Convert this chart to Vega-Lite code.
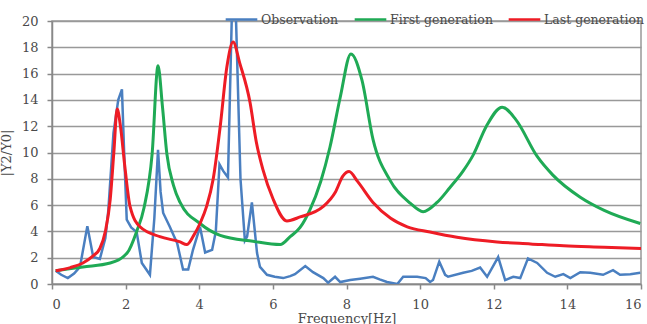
{
  "$schema": "https://vega.github.io/schema/vega-lite/v6.json",
  "width": 589,
  "height": 263,
  "autosize": {"type": "none"},
  "padding": {"left": 52, "top": 21, "right": 6, "bottom": 40},
  "background": "white",
  "config": {
    "view": {"stroke": "#999", "strokeWidth": 1.5},
    "font": "DejaVu Serif",
    "axis": {"labelFont": "DejaVu Serif", "titleFont": "DejaVu Serif", "labelColor": "#4a4a4a", "titleColor": "#4a4a4a", "labelFontSize": 13, "titleFontSize": 13, "titleFontWeight": "normal", "domainColor": "#888", "tickColor": "#888", "domainWidth": 1.5, "tickWidth": 1.5, "tickSize": 5},
    "legend": {"labelFont": "DejaVu Serif", "labelFontSize": 12.5, "labelColor": "#4a4a4a"}
  },
  "data": {"values": [
    {"f":0.1,"y":1.0,"s":"Observation"},{"f":0.25,"y":0.7,"s":"Observation"},{"f":0.43,"y":0.45,"s":"Observation"},{"f":0.6,"y":0.8,"s":"Observation"},{"f":0.76,"y":1.3,"s":"Observation"},{"f":0.96,"y":4.4,"s":"Observation"},{"f":1.12,"y":2.05,"s":"Observation"},{"f":1.3,"y":1.9,"s":"Observation"},{"f":1.45,"y":3.5,"s":"Observation"},{"f":1.53,"y":5.6,"s":"Observation"},{"f":1.67,"y":11.5,"s":"Observation"},{"f":1.8,"y":14.0,"s":"Observation"},{"f":1.9,"y":14.8,"s":"Observation"},{"f":1.96,"y":10.0,"s":"Observation"},{"f":2.03,"y":4.9,"s":"Observation"},{"f":2.15,"y":4.3,"s":"Observation"},{"f":2.3,"y":3.95,"s":"Observation"},{"f":2.44,"y":1.6,"s":"Observation"},{"f":2.66,"y":0.7,"s":"Observation"},{"f":2.78,"y":5.0,"s":"Observation"},{"f":2.88,"y":10.2,"s":"Observation"},{"f":2.95,"y":7.0,"s":"Observation"},{"f":3.02,"y":5.4,"s":"Observation"},{"f":3.2,"y":4.35,"s":"Observation"},{"f":3.4,"y":3.1,"s":"Observation"},{"f":3.56,"y":1.1,"s":"Observation"},{"f":3.7,"y":1.1,"s":"Observation"},{"f":3.83,"y":2.6,"s":"Observation"},{"f":4.02,"y":4.35,"s":"Observation"},{"f":4.16,"y":2.4,"s":"Observation"},{"f":4.35,"y":2.6,"s":"Observation"},{"f":4.45,"y":4.0,"s":"Observation"},{"f":4.55,"y":9.1,"s":"Observation"},{"f":4.65,"y":8.6,"s":"Observation"},{"f":4.78,"y":8.1,"s":"Observation"},{"f":4.89,"y":21.0,"s":"Observation"},{"f":4.99,"y":21.0,"s":"Observation"},{"f":5.12,"y":8.0,"s":"Observation"},{"f":5.24,"y":3.3,"s":"Observation"},{"f":5.3,"y":3.6,"s":"Observation"},{"f":5.43,"y":6.2,"s":"Observation"},{"f":5.57,"y":2.35,"s":"Observation"},{"f":5.65,"y":1.3,"s":"Observation"},{"f":5.84,"y":0.7,"s":"Observation"},{"f":6.05,"y":0.55,"s":"Observation"},{"f":6.28,"y":0.45,"s":"Observation"},{"f":6.47,"y":0.6,"s":"Observation"},{"f":6.6,"y":0.75,"s":"Observation"},{"f":6.88,"y":1.37,"s":"Observation"},{"f":7.09,"y":0.9,"s":"Observation"},{"f":7.37,"y":0.45,"s":"Observation"},{"f":7.5,"y":0.1,"s":"Observation"},{"f":7.69,"y":0.55,"s":"Observation"},{"f":7.83,"y":0.15,"s":"Observation"},{"f":8.1,"y":0.3,"s":"Observation"},{"f":8.37,"y":0.4,"s":"Observation"},{"f":8.72,"y":0.55,"s":"Observation"},{"f":8.9,"y":0.35,"s":"Observation"},{"f":9.1,"y":0.15,"s":"Observation"},{"f":9.38,"y":0.0,"s":"Observation"},{"f":9.54,"y":0.55,"s":"Observation"},{"f":9.92,"y":0.55,"s":"Observation"},{"f":10.15,"y":0.45,"s":"Observation"},{"f":10.27,"y":0.15,"s":"Observation"},{"f":10.35,"y":0.3,"s":"Observation"},{"f":10.52,"y":1.7,"s":"Observation"},{"f":10.68,"y":0.7,"s":"Observation"},{"f":10.76,"y":0.55,"s":"Observation"},{"f":11.17,"y":0.85,"s":"Observation"},{"f":11.4,"y":1.0,"s":"Observation"},{"f":11.63,"y":1.25,"s":"Observation"},{"f":11.82,"y":0.55,"s":"Observation"},{"f":12.12,"y":2.05,"s":"Observation"},{"f":12.31,"y":0.3,"s":"Observation"},{"f":12.53,"y":0.55,"s":"Observation"},{"f":12.72,"y":0.45,"s":"Observation"},{"f":12.93,"y":1.95,"s":"Observation"},{"f":13.18,"y":1.6,"s":"Observation"},{"f":13.45,"y":0.85,"s":"Observation"},{"f":13.67,"y":0.55,"s":"Observation"},{"f":13.89,"y":0.75,"s":"Observation"},{"f":14.08,"y":0.45,"s":"Observation"},{"f":14.35,"y":0.9,"s":"Observation"},{"f":14.62,"y":0.85,"s":"Observation"},{"f":14.97,"y":0.7,"s":"Observation"},{"f":15.24,"y":1.05,"s":"Observation"},{"f":15.43,"y":0.7,"s":"Observation"},{"f":15.71,"y":0.75,"s":"Observation"},{"f":15.98,"y":0.85,"s":"Observation"},

    {"f":0.1,"y":1.0,"s":"First generation"},{"f":0.84,"y":1.3,"s":"First generation"},{"f":1.58,"y":1.6,"s":"First generation"},{"f":2.04,"y":2.35,"s":"First generation"},{"f":2.3,"y":4.0,"s":"First generation"},{"f":2.5,"y":5.8,"s":"First generation"},{"f":2.72,"y":9.9,"s":"First generation"},{"f":2.88,"y":16.6,"s":"First generation"},{"f":3.0,"y":13.5,"s":"First generation"},{"f":3.12,"y":9.9,"s":"First generation"},{"f":3.3,"y":7.5,"s":"First generation"},{"f":3.48,"y":6.2,"s":"First generation"},{"f":4.02,"y":4.6,"s":"First generation"},{"f":4.57,"y":3.7,"s":"First generation"},{"f":5.46,"y":3.25,"s":"First generation"},{"f":6.2,"y":3.0,"s":"First generation"},{"f":6.47,"y":3.6,"s":"First generation"},{"f":6.74,"y":4.3,"s":"First generation"},{"f":7.0,"y":5.6,"s":"First generation"},{"f":7.3,"y":7.8,"s":"First generation"},{"f":7.55,"y":10.4,"s":"First generation"},{"f":7.83,"y":14.2,"s":"First generation"},{"f":8.12,"y":17.5,"s":"First generation"},{"f":8.42,"y":15.5,"s":"First generation"},{"f":8.72,"y":11.0,"s":"First generation"},{"f":9.18,"y":7.9,"s":"First generation"},{"f":9.73,"y":6.15,"s":"First generation"},{"f":10.08,"y":5.5,"s":"First generation"},{"f":10.46,"y":6.2,"s":"First generation"},{"f":10.8,"y":7.3,"s":"First generation"},{"f":11.17,"y":8.6,"s":"First generation"},{"f":11.44,"y":9.8,"s":"First generation"},{"f":11.8,"y":12.0,"s":"First generation"},{"f":12.23,"y":13.45,"s":"First generation"},{"f":12.6,"y":12.5,"s":"First generation"},{"f":13.18,"y":9.7,"s":"First generation"},{"f":13.6,"y":8.3,"s":"First generation"},{"f":14.35,"y":6.6,"s":"First generation"},{"f":15.0,"y":5.6,"s":"First generation"},{"f":15.98,"y":4.6,"s":"First generation"},

    {"f":0.1,"y":1.0,"s":"Last generation"},{"f":0.5,"y":1.25,"s":"Last generation"},{"f":0.84,"y":1.6,"s":"Last generation"},{"f":1.1,"y":2.1,"s":"Last generation"},{"f":1.3,"y":2.7,"s":"Last generation"},{"f":1.45,"y":4.0,"s":"Last generation"},{"f":1.58,"y":6.4,"s":"Last generation"},{"f":1.68,"y":10.0,"s":"Last generation"},{"f":1.77,"y":13.3,"s":"Last generation"},{"f":1.86,"y":12.0,"s":"Last generation"},{"f":1.98,"y":8.9,"s":"Last generation"},{"f":2.12,"y":5.9,"s":"Last generation"},{"f":2.39,"y":4.35,"s":"Last generation"},{"f":2.93,"y":3.6,"s":"Last generation"},{"f":3.48,"y":3.2,"s":"Last generation"},{"f":3.66,"y":3.0,"s":"Last generation"},{"f":3.85,"y":3.7,"s":"Last generation"},{"f":4.02,"y":4.6,"s":"Last generation"},{"f":4.2,"y":5.9,"s":"Last generation"},{"f":4.38,"y":8.0,"s":"Last generation"},{"f":4.57,"y":12.0,"s":"Last generation"},{"f":4.75,"y":16.5,"s":"Last generation"},{"f":4.92,"y":18.4,"s":"Last generation"},{"f":5.1,"y":16.8,"s":"Last generation"},{"f":5.38,"y":13.8,"s":"Last generation"},{"f":5.55,"y":10.8,"s":"Last generation"},{"f":5.73,"y":8.7,"s":"Last generation"},{"f":6.0,"y":6.5,"s":"Last generation"},{"f":6.38,"y":4.8,"s":"Last generation"},{"f":6.74,"y":5.1,"s":"Last generation"},{"f":7.37,"y":5.9,"s":"Last generation"},{"f":7.7,"y":7.0,"s":"Last generation"},{"f":7.9,"y":8.2,"s":"Last generation"},{"f":8.07,"y":8.55,"s":"Last generation"},{"f":8.3,"y":7.8,"s":"Last generation"},{"f":8.72,"y":6.2,"s":"Last generation"},{"f":9.2,"y":5.0,"s":"Last generation"},{"f":9.65,"y":4.35,"s":"Last generation"},{"f":10.27,"y":3.95,"s":"Last generation"},{"f":11.0,"y":3.55,"s":"Last generation"},{"f":12.09,"y":3.2,"s":"Last generation"},{"f":13.0,"y":3.05,"s":"Last generation"},{"f":13.9,"y":2.9,"s":"Last generation"},{"f":15.0,"y":2.8,"s":"Last generation"},{"f":16.0,"y":2.7,"s":"Last generation"}
  ]},
  "encoding": {
    "x": {"field": "f", "type": "quantitative", "scale": {"domain": [0, 16], "nice": false}, "axis": {"values": [0,2,4,6,8,10,12,14,16], "grid": false, "title": "Frequency[Hz]", "labelPadding": 9, "titlePadding": 1}},
    "y": {"field": "y", "type": "quantitative", "scale": {"domain": [0, 20], "nice": false}, "axis": {"values": [0,2,4,6,8,10,12,14,16,18,20], "grid": true, "gridColor": "#999", "gridWidth": 1.5, "title": "|Y2/Y0|", "labelPadding": 9, "titlePadding": 8}},
    "color": {"field": "s", "type": "nominal", "scale": {"domain": ["Observation", "First generation", "Last generation"], "range": ["#4a7fc0", "#1faa55", "#ee1c25"]}, "legend": {"title": null, "orient": "none", "direction": "horizontal", "legendX": 172, "legendY": -19, "symbolType": "stroke", "symbolSize": 1000, "symbolStrokeWidth": 2.5, "labelOffset": 2, "columnPadding": 10}}
  },
  "layer": [
    {"transform": [{"filter": "datum.s === 'Observation'"}], "mark": {"type": "line", "strokeWidth": 2.5, "clip": true, "interpolate": "linear"}},
    {"transform": [{"filter": "datum.s !== 'Observation'"}], "mark": {"type": "line", "strokeWidth": 3, "clip": true, "interpolate": "monotone"}}
  ]
}
